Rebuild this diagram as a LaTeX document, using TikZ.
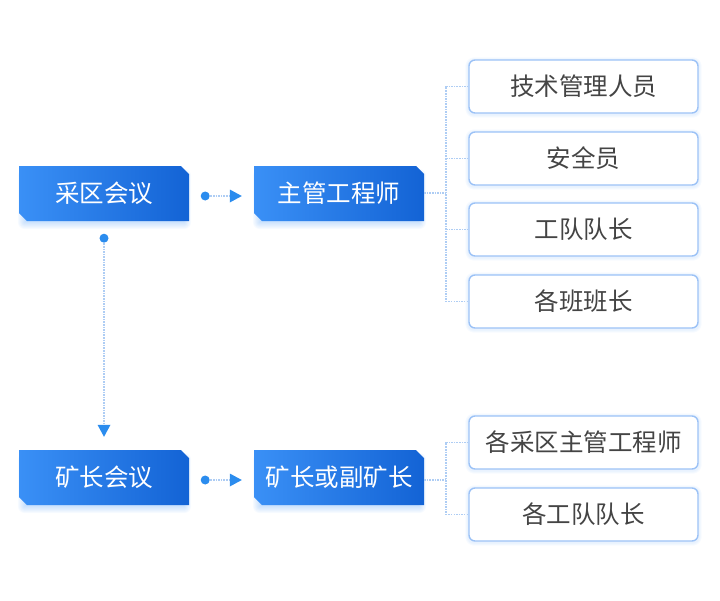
\documentclass[tikz,border=0pt]{standalone}
\usepackage{fontspec}
\newfontfamily\cjk{Noto Sans CJK SC}
\usetikzlibrary{shapes.misc,arrows.meta,backgrounds}
\definecolor{bL}{HTML}{3A90F6}
\definecolor{bR}{HTML}{1363D5}
\definecolor{wb}{HTML}{9CC2F6}
\definecolor{dl}{HTML}{AECDF4}
\definecolor{ac}{HTML}{2B8CEE}
\definecolor{tx}{HTML}{444444}
\tikzset{
  bluebox/.style={chamfered rectangle, chamfered rectangle corners={north east,south west},
    chamfered rectangle xsep=4pt, chamfered rectangle ysep=4pt,
    left color=bL, right color=bR, draw=none, minimum width=170pt, minimum height=55pt,
    inner sep=0pt, text=white, font=\cjk\fontsize{24.5}{28}\selectfont},
  whitebox/.style={draw=wb, line width=1.4pt, rounded corners=6pt, fill=white,
    minimum width=229pt, minimum height=53pt, inner sep=0pt, text=tx,
    font=\cjk\fontsize{24.5}{28}\selectfont},
  dotline/.style={draw=dl, line width=1.9pt, dash pattern=on 1.5pt off 1.1pt},
  arr/.style={dotline, -{Triangle[length=12pt,width=13pt,color=ac,fill=ac,line width=0pt]}},
  dotfill/.style={fill=ac},
}
\newcommand\bshadow[1]{%
  \foreach \i in {0,...,7}{%
    \fill[bL,opacity=0.04,rounded corners={\i*1pt}]
      ([xshift={(2-\i)*1pt},yshift={(-5-\i)*1pt}]#1.south west) rectangle
      ([xshift={(\i-1)*1pt},yshift={(\i-6)*1pt}]#1.north east);}}
\newcommand\wshadow[1]{%
  \foreach \i in {1,...,3}{%
    \fill[bL,opacity=0.04,rounded corners={(6+\i)*1pt}]
      ([xshift={-\i*1pt},yshift={(-\i-1)*1pt}]#1.south west) rectangle
      ([xshift={\i*1pt},yshift={(\i-1)*1pt}]#1.north east);}}
\begin{document}
\begin{tikzpicture}[x=1pt,y=-1pt]
\useasboundingbox (0,0) rectangle (720,600);

% blue boxes
\node[bluebox] (cq) at (104,193.5) {采区会议};
\node[bluebox] (zg) at (339,193.5) {主管工程师};
\node[bluebox] (kz) at (104,477.5) {矿长会议};
\node[bluebox] (kf) at (339,477.5) {矿长或副矿长};

% white boxes
\node[whitebox] (w1) at (583.5,86.5) {技术管理人员};
\node[whitebox] (w2) at (583.5,158.5) {安全员};
\node[whitebox] (w3) at (583.5,229.5) {工队队长};
\node[whitebox] (w4) at (583.5,301.5) {各班班长};
\node[whitebox] (w5) at (583.5,442.5) {各采区主管工程师};
\node[whitebox] (w6) at (583.5,514.5) {各工队队长};

\begin{scope}[on background layer]
  \bshadow{cq}\bshadow{zg}\bshadow{kz}\bshadow{kf}
  \wshadow{w1}\wshadow{w2}\wshadow{w3}\wshadow{w4}\wshadow{w5}\wshadow{w6}
\end{scope}

% arrows with dots
\coordinate (d1) at ([xshift=16pt,yshift=-2.5pt]cq.east);
\coordinate (d2) at ([xshift=16pt,yshift=-2.5pt]kz.east);
\coordinate (d3) at ([yshift=-17pt]cq.south);
\draw[arr, shorten >=12pt] (d1) -- (d1 -| zg.west);
\draw[arr, shorten >=12pt] (d2) -- (d2 -| kf.west);
\draw[arr, shorten >=13pt] (d3) -- (kz.north);
\fill[dotfill] (d1) circle (4.5pt);
\fill[dotfill] (d2) circle (4.5pt);
\fill[dotfill] (d3) circle (4.5pt);

% brackets
\coordinate (j1) at ([xshift=22pt,yshift=0.5pt]zg.east);
\draw[dotline] (zg.east |- j1) -- (j1);
\draw[dotline] (w1.west) -- (w1.west -| j1) -- (w4.west -| j1) -- (w4.west);
\draw[dotline] (w2.west) -- (w2.west -| j1);
\draw[dotline] (w3.west) -- (w3.west -| j1);

\coordinate (j2) at ([xshift=22pt,yshift=-2.5pt]kf.east);
\draw[dotline] (kf.east |- j2) -- (j2);
\draw[dotline] (w5.west) -- (w5.west -| j2) -- (w6.west -| j2) -- (w6.west);
\end{tikzpicture}
\end{document}
